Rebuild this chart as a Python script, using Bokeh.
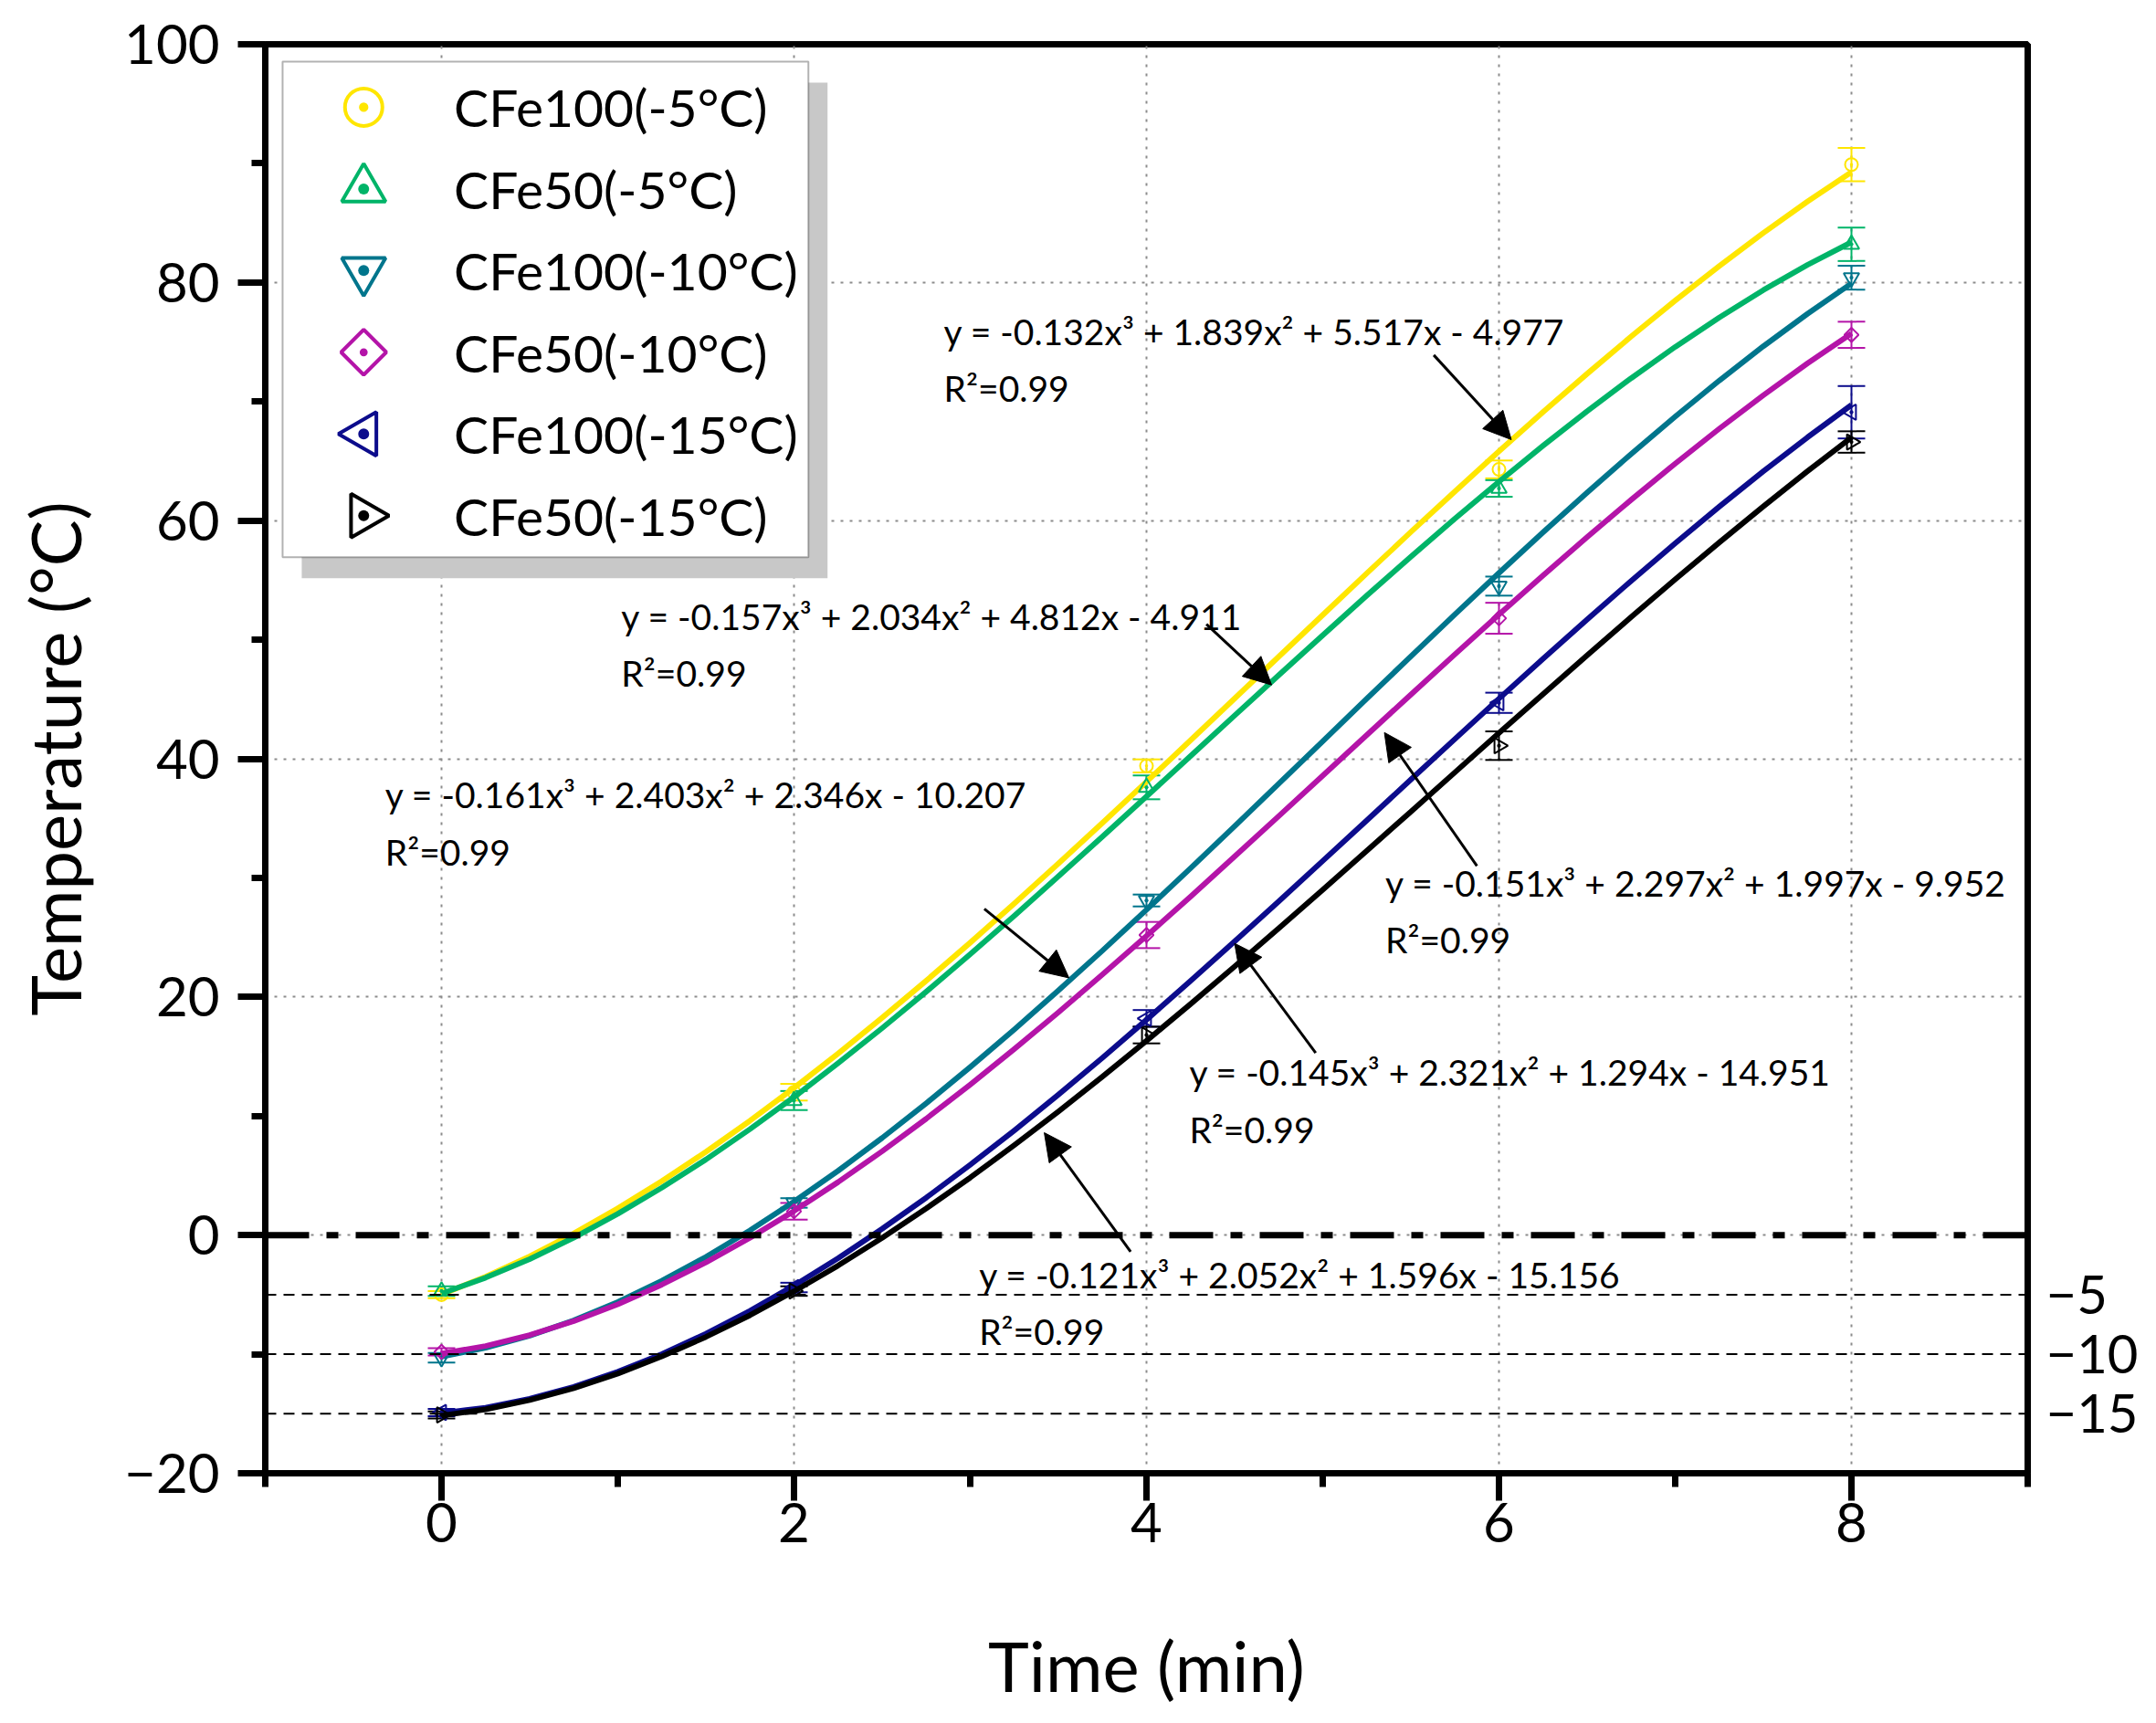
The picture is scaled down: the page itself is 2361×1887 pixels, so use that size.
import math

from bokeh.core.properties import value
from bokeh.embed import file_html
from bokeh.models import (
    Arrow,
    BoxAnnotation,
    ColumnDataSource,
    FixedTicker,
    LinearAxis,
    NormalHead,
    Range1d,
    SingleIntervalTicker,
    Span,
    TeeHead,
    Whisker,
)
from bokeh.plotting import figure
from bokeh.resources import INLINE

t = [0, 2, 4, 6, 8]

cfe100_m5 = [-5.0, 12.0, 39.4, 64.3, 89.9]
cfe100_m5_err = [0.3, 0.7, 0.55, 0.75, 1.4]
cfe50_m5 = [-4.7, 11.3, 37.6, 62.7, 83.2]
cfe50_m5_err = [0.4, 0.8, 1.0, 0.7, 1.4]
cfe100_m10 = [-10.3, 2.7, 28.1, 54.5, 80.4]
cfe100_m10_err = [0.4, 0.4, 0.5, 0.8, 1.0]
cfe50_m10 = [-9.8, 2.0, 25.2, 51.8, 75.6]
cfe50_m10_err = [0.3, 0.7, 1.1, 1.3, 1.1]
cfe100_m15 = [-14.9, -4.4, 18.2, 44.7, 69.1]
cfe100_m15_err = [0.3, 0.4, 0.7, 0.85, 2.2]
cfe50_m15 = [-15.1, -4.7, 16.8, 41.1, 66.6]
cfe50_m15_err = [0.3, 0.4, 0.7, 1.2, 0.9]

# fitted cubic curves, values every 0.25 min
t_fit = [0, 0.25, 0.5, 0.75, 1, 1.25, 1.5, 1.75, 2, 2.25, 2.5, 2.75, 3, 3.25,
         3.5, 3.75, 4, 4.25, 4.5, 4.75, 5, 5.25, 5.5, 5.75, 6, 6.25, 6.5, 6.75,
         7, 7.25, 7.5, 7.75, 8]
fit_cfe100_m5 = [-4.98, -3.49, -1.78, 0.14, 2.25, 4.54, 6.99, 9.60, 12.36,
                 15.24, 18.25, 21.36, 24.56, 27.85, 31.20, 34.61, 38.07, 41.55,
                 45.06, 48.57, 52.08, 55.57, 59.04, 62.45, 65.82, 69.11, 72.33,
                 75.46, 78.48, 81.38, 84.16, 86.79, 89.27]
fit_cfe50_m5 = [-4.91, -3.58, -2.02, -0.22, 1.78, 3.98, 6.35, 8.90, 11.59,
                14.43, 17.38, 20.44, 23.59, 26.82, 30.12, 33.46, 36.83, 40.23,
                43.63, 47.01, 50.37, 53.70, 56.96, 60.16, 63.27, 66.29, 69.19,
                71.96, 74.59, 77.06, 79.36, 81.47, 83.38]
fit_cfe100_m10 = [-10.21, -9.47, -8.45, -7.16, -5.62, -3.83, -1.83, 0.40, 2.81,
                  5.40, 8.16, 11.07, 14.11, 17.27, 20.54, 23.89, 27.32, 30.81,
                  34.34, 37.90, 41.47, 45.05, 48.60, 52.12, 55.60, 59.02, 62.35,
                  65.60, 68.74, 71.76, 74.64, 77.36, 79.92]
fit_cfe50_m10 = [-9.95, -9.31, -8.40, -7.23, -5.81, -4.16, -2.30, -0.23, 2.02,
                 4.45, 7.04, 9.77, 12.64, 15.62, 18.70, 21.88, 25.12, 28.43,
                 31.79, 35.18, 38.58, 41.99, 45.39, 48.77, 52.11, 55.39, 58.61,
                 61.75, 64.79, 67.72, 70.53, 73.20, 75.72]
fit_cfe100_m15 = [-14.95, -14.49, -13.74, -12.74, -11.48, -9.99, -8.28, -6.36,
                  -4.24, -1.94, 0.53, 3.14, 5.91, 8.79, 11.79, 14.89, 18.08,
                  21.34, 24.66, 28.02, 31.42, 34.83, 38.25, 41.66, 45.05, 48.40,
                  51.70, 54.94, 58.10, 61.17, 64.14, 66.99, 69.71]
fit_cfe50_m15 = [-15.16, -14.63, -13.86, -12.86, -11.63, -10.19, -8.55, -6.73,
                 -4.72, -2.56, -0.23, 2.24, 4.83, 7.55, 10.38, 13.30, 16.32,
                 19.40, 22.55, 25.76, 29.00, 32.27, 35.56, 38.86, 42.16, 45.43,
                 48.69, 51.90, 55.06, 58.16, 61.19, 64.14, 66.99]

names = ["CFe100(-5°C)", "CFe50(-5°C)", "CFe100(-10°C)",
         "CFe50(-10°C)", "CFe100(-15°C)", "CFe50(-15°C)"]
colors = ["#FFE600", "#00B468", "#00758C", "#B414A8", "#0C0C8C", "#000000"]
markers = ["circle_dot", "triangle_dot", "triangle_dot",
           "square_dot", "triangle_dot", "triangle_dot"]
angles = [0, 0, math.pi, math.pi / 4, math.pi / 2, -math.pi / 2]
point_sizes = [14, 17, 17, 11, 17, 17]
legend_sizes = [41, 48, 48, 35, 48, 48]

values = [cfe100_m5, cfe50_m5, cfe100_m10, cfe50_m10, cfe100_m15, cfe50_m15]
errors = [cfe100_m5_err, cfe50_m5_err, cfe100_m10_err,
          cfe50_m10_err, cfe100_m15_err, cfe50_m15_err]
fits = [fit_cfe100_m5, fit_cfe50_m5, fit_cfe100_m10,
        fit_cfe50_m10, fit_cfe100_m15, fit_cfe50_m15]

# fit equations and the arrows pointing at their curves
eq_text = [
    "y = -0.132x³ + 1.839x² + 5.517x - 4.977",
    "y = -0.157x³ + 2.034x² + 4.812x - 4.911",
    "y = -0.161x³ + 2.403x² + 2.346x - 10.207",
    "y = -0.151x³ + 2.297x² + 1.997x - 9.952",
    "y = -0.145x³ + 2.321x² + 1.294x - 14.951",
    "y = -0.121x³ + 2.052x² + 1.596x - 15.156",
]
eq_x = [2.85, 1.02, -0.32, 5.355, 4.243, 3.05]
eq_y = [75.9, 52.0, 37.0, 29.6, 13.7, -3.3]
r2_text = ["R²=0.99"] * 6
r2_y = [71.1, 47.2, 32.2, 24.8, 8.9, -8.1]

arrow_x0 = [5.63, 4.34, 3.08, 5.875, 4.96, 3.91]
arrow_y0 = [73.9, 51.3, 27.4, 31.0, 15.3, -1.4]
arrow_x1 = [6.07, 4.71, 3.56, 5.35, 4.50, 3.42]
arrow_y1 = [66.8, 46.2, 21.6, 42.2, 24.5, 8.6]

ref_levels = [-5, -10, -15]

FONT = "Lato"
W, H = 2344, 1871

p = figure(
    width=W,
    height=H,
    x_range=Range1d(-1, 9),
    y_range=Range1d(-20, 100),
    output_backend="svg",
    toolbar_location=None,
    min_border_left=290,
    min_border_right=W - 2224,
    min_border_top=48,
    min_border_bottom=H - 1614,
)
p.background_fill_color = "white"
p.outline_line_color = "black"
p.outline_line_width = 7

# axes
p.xaxis.ticker = SingleIntervalTicker(interval=2, num_minor_ticks=2)
p.yaxis.ticker = SingleIntervalTicker(interval=20, num_minor_ticks=2)
p.yaxis.major_label_overrides = {-20: "−20"}
p.xaxis.axis_label = "Time (min)"
p.yaxis.axis_label = "Temperature (°C)"
for ax in (p.xaxis, p.yaxis):
    ax.axis_line_width = 7
    ax.major_tick_line_width = 7
    ax.minor_tick_line_width = 7
    ax.major_tick_out = 30
    ax.major_tick_in = 0
    ax.minor_tick_out = 15
    ax.minor_tick_in = 0
    ax.major_label_text_font = FONT
    ax.major_label_text_font_size = "60px"
    ax.major_label_text_color = "black"
    ax.axis_label_text_font = FONT
    ax.axis_label_text_font_size = "76px"
    ax.axis_label_text_font_style = "normal"
    ax.axis_label_text_color = "black"
p.xaxis.major_label_standoff = 2
p.xaxis.axis_label_standoff = 86
p.yaxis.major_label_standoff = 20
p.yaxis.axis_label_standoff = 28

right_axis = LinearAxis(
    ticker=FixedTicker(ticks=ref_levels),
    major_label_overrides={v: "−" + str(abs(v)) for v in ref_levels},
    axis_line_width=7,
    major_tick_line_color=None,
    minor_tick_line_color=None,
    major_label_standoff=14,
    major_label_text_font=FONT,
    major_label_text_font_size="58px",
    major_label_text_color="black",
)
p.add_layout(right_axis, "right")

p.grid.grid_line_color = "#8c8c8c"
p.grid.grid_line_width = 2
p.grid.grid_line_dash = "3 7"

# reference lines
p.add_layout(Span(location=0, dimension="width", line_color="black",
                  line_width=7, line_dash="48 19 13 19"))
for lev in ref_levels:
    p.add_layout(Span(location=lev, dimension="width", line_color="black",
                      line_width=2, line_dash="12 8"))

# series: error bars, points, fitted curves
for name, col, mk, ang, sz, ys, er, yf in zip(
    names, colors, markers, angles, point_sizes, values, errors, fits
):
    src = ColumnDataSource(dict(
        x=t, y=ys,
        upper=[a + b for a, b in zip(ys, er)],
        lower=[a - b for a, b in zip(ys, er)],
    ))
    p.add_layout(Whisker(
        source=src, base="x", upper="upper", lower="lower", dimension="height",
        line_color=col, line_width=2,
        upper_head=TeeHead(size=30, line_color=col, line_width=2),
        lower_head=TeeHead(size=30, line_color=col, line_width=2),
    ))
    p.scatter("x", "y", source=src, marker=mk, angle=ang, size=sz,
              line_color=col, fill_color=None, line_width=2)
    p.line(t_fit, yf, line_color=col, line_width=6, line_join="round")

# equation labels and arrows
p.text(eq_x, eq_y, text=eq_text, text_font=value(FONT), text_font_size="39px",
       text_baseline="alphabetic", text_align="left", text_color="black")
p.text(eq_x, r2_y, text=r2_text, text_font=value(FONT), text_font_size="39px",
       text_baseline="alphabetic", text_align="left", text_color="black")
for xs, ys, xe, ye in zip(arrow_x0, arrow_y0, arrow_x1, arrow_y1):
    p.add_layout(Arrow(
        x_start=xs, y_start=ys, x_end=xe, y_end=ye, line_width=3,
        line_color="black",
        end=NormalHead(size=30, fill_color="black", line_color="black"),
    ))

# legend drawn in frame pixels (y measured from the frame top)
p.extra_x_ranges = {"px": Range1d(0, 1934)}
p.extra_y_ranges = {"px": Range1d(1566, 0)}
p.add_layout(BoxAnnotation(left=40, right=617, top=42, bottom=585,
                           x_range_name="px", y_range_name="px",
                           fill_color="#c8c8c8", fill_alpha=1, line_color=None))
p.add_layout(BoxAnnotation(left=19, right=596, top=19, bottom=562,
                           x_range_name="px", y_range_name="px",
                           fill_color="white", fill_alpha=1,
                           line_color="black", line_width=2))
row_y = [69 + 89.5 * i for i in range(len(names))]
leg = ColumnDataSource(dict(
    x=[108] * len(names), tx=[207] * len(names), y=row_y, label=names,
    marker=markers, angle=angles, size=legend_sizes, color=colors,
))
p.scatter("x", "y", source=leg, marker="marker", angle="angle", size="size",
          line_color="color", fill_color=None, line_width=4,
          x_range_name="px", y_range_name="px", level="overlay")
p.text("tx", "y", text="label", source=leg, text_font=value(FONT),
       text_font_size="57px", text_baseline="middle", text_align="left",
       text_color="black", x_range_name="px", y_range_name="px",
       level="overlay")

open("out.html", "w").write(file_html(p, INLINE))
